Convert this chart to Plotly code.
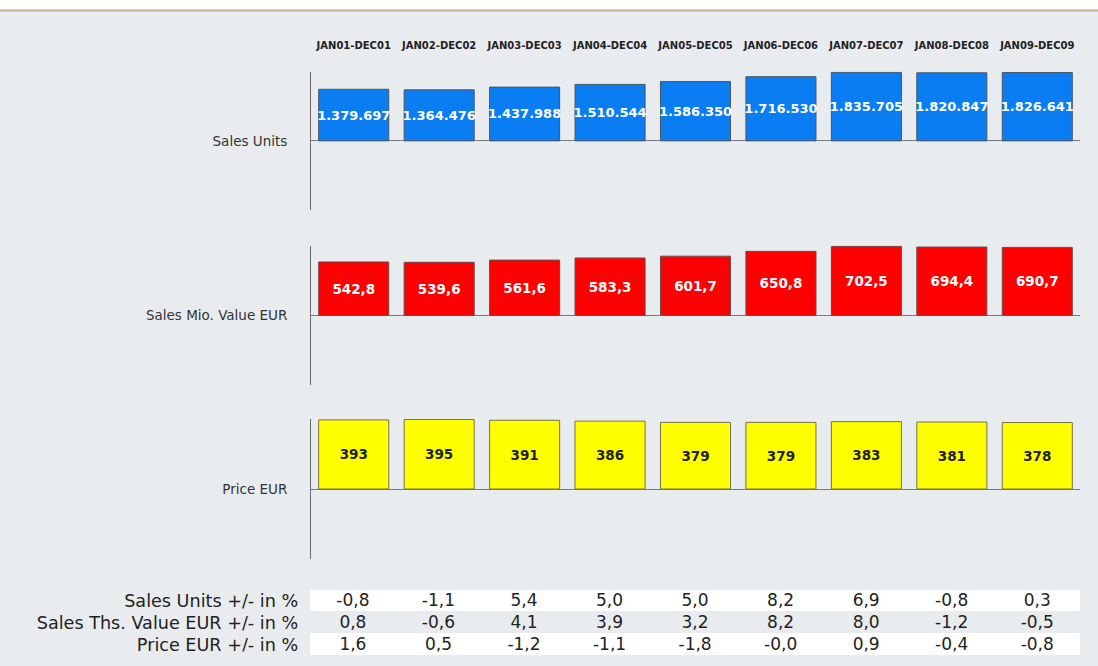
import plotly.graph_objects as go

periods = ["JAN01-DEC01", "JAN02-DEC02", "JAN03-DEC03", "JAN04-DEC04", "JAN05-DEC05",
           "JAN06-DEC06", "JAN07-DEC07", "JAN08-DEC08", "JAN09-DEC09"]
sales_units = [1379697, 1364476, 1437988, 1510544, 1586350, 1716530, 1835705, 1820847, 1826641]
sales_value_mio = [542.8, 539.6, 561.6, 583.3, 601.7, 650.8, 702.5, 694.4, 690.7]
price_eur = [393, 395, 391, 386, 379, 379, 383, 381, 378]

row_labels = ["Sales Units +/- in %", "Sales Ths. Value EUR +/- in %", "Price EUR +/- in %"]
units_chg = [-0.8, -1.1, 5.4, 5.0, 5.0, 8.2, 6.9, -0.8, 0.3]
value_chg = [0.8, -0.6, 4.1, 3.9, 3.2, 8.2, 8.0, -1.2, -0.5]
price_chg = [1.6, 0.5, -1.2, -1.1, -1.8, -0.0, 0.9, -0.4, -0.8]

panel_labels = ["Sales Units", "Sales Mio. Value EUR", "Price EUR"]

BG = "#e9ecef"
W, H = 1098, 666


def px_x(p):
    return p / W


def px_y(p):
    return (H - p) / H


def fmt_units(v):
    return f"{v:,}".replace(",", ".")


def fmt_dec(v):
    return f"{v:.1f}".replace(".", ",")


fig = go.Figure()

fig.add_trace(go.Bar(
    x=periods, y=sales_units, xaxis="x", yaxis="y",
    marker=dict(color="#0a7df2", line=dict(color="#4a5560", width=1)),
    text=[fmt_units(v) for v in sales_units], textposition="inside",
    insidetextanchor="middle", constraintext="none",
    textfont=dict(family="DejaVu Sans", size=13, color="white", weight="bold"),
    hoverinfo="x+y", showlegend=False,
))
fig.add_trace(go.Bar(
    x=periods, y=sales_value_mio, xaxis="x2", yaxis="y2",
    marker=dict(color="#ff0000", line=dict(color="#6a4a4a", width=1)),
    text=[fmt_dec(v) for v in sales_value_mio], textposition="inside",
    insidetextanchor="middle", constraintext="none",
    textfont=dict(family="DejaVu Sans", size=13.5, color="white", weight="bold"),
    hoverinfo="x+y", showlegend=False,
))
fig.add_trace(go.Bar(
    x=periods, y=price_eur, xaxis="x3", yaxis="y3",
    marker=dict(color="#ffff00", line=dict(color="#7a7048", width=1)),
    text=[str(v) for v in price_eur], textposition="inside",
    insidetextanchor="middle", constraintext="none",
    textfont=dict(family="DejaVu Sans", size=13.5, color="#222222", weight="bold"),
    hoverinfo="x+y", showlegend=False,
))

# bottom table: first row as header, the other two as cells (plus a narrow spacer column)
n = len(periods)
header_vals = [row_labels[0], ""] + [fmt_dec(v) for v in units_chg]
cell_cols = [row_labels[1:], ["", ""]]
for i in range(n):
    cell_cols.append([fmt_dec(value_chg[i]), fmt_dec(price_chg[i])])
CLEAR = "rgba(0,0,0,0)"
tfont = dict(family="DejaVu Sans", size=[17.6, 17] + [17] * n, color="#222222")
aligns = ["right", "center"] + ["center"] * n
fig.add_trace(go.Table(
    domain=dict(x=[0, px_x(1080)], y=[px_y(651.5), px_y(585.5)]),
    columnwidth=[306, 4] + [85.5] * n,
    header=dict(values=header_vals, height=22, align=aligns,
                line=dict(width=0, color=CLEAR), fill=dict(color=CLEAR), font=tfont),
    cells=dict(values=cell_cols, height=22, align=aligns,
               line=dict(width=0, color=CLEAR), fill=dict(color=CLEAR), font=tfont),
))

x_dom = [px_x(311), px_x(1080)]
panels = [(71.7, 210), (245.7, 385), (419, 559)]
maxes = [max(sales_units), max(sales_value_mio), max(price_eur)]

layout = dict(
    width=W, height=H,
    margin=dict(l=0, r=0, t=0, b=0),
    paper_bgcolor=BG, plot_bgcolor=BG,
    bargap=0.18,
    showlegend=False,
    font=dict(family="DejaVu Sans", color="#333333"),
)
for k in range(3):
    sfx = "" if k == 0 else str(k + 1)
    top, bot = panels[k]
    R = maxes[k] * 1.008
    xa = dict(domain=x_dom, anchor="y" + sfx, showgrid=False, zeroline=False,
              showline=False, ticks="", showticklabels=False, fixedrange=True,
              type="category")
    if k == 0:
        xa.update(showticklabels=True, side="top", anchor="free", position=px_y(51),
                  tickfont=dict(family="DejaVu Sans", size=10, color="#222222", weight="bold"))
    layout["xaxis" + sfx] = xa
    layout["yaxis" + sfx] = dict(
        domain=[px_y(bot), px_y(top)], anchor="x" + sfx, range=[-R, R],
        showgrid=False, zeroline=True, zerolinecolor="#7a7a7a", zerolinewidth=1,
        showline=True, linecolor="#6a6a6a", linewidth=1,
        ticks="", tickvals=[0], ticktext=[panel_labels[k]],
        ticklabelstandoff=20,
        tickfont=dict(family="DejaVu Sans", size=13.5, color="#333333"),
        fixedrange=True,
    )

layout["shapes"] = [
    dict(type="rect", xref="paper", yref="paper", x0=0, x1=1, y0=px_y(9.5), y1=1,
         fillcolor="white", line=dict(width=0), layer="below"),
    dict(type="line", xref="paper", yref="paper", x0=0, x1=1, y0=px_y(10.5), y1=px_y(10.5),
         line=dict(color="#c6b393", width=2)),
    dict(type="rect", xref="paper", yref="paper", x0=px_x(310), x1=px_x(1080),
         y0=px_y(611), y1=px_y(590), fillcolor="white", line=dict(width=0), layer="below"),
    dict(type="rect", xref="paper", yref="paper", x0=px_x(310), x1=px_x(1080),
         y0=px_y(655), y1=px_y(633), fillcolor="white", line=dict(width=0), layer="below"),
]

fig.update_layout(**layout)
fig.write_html("out.html")
